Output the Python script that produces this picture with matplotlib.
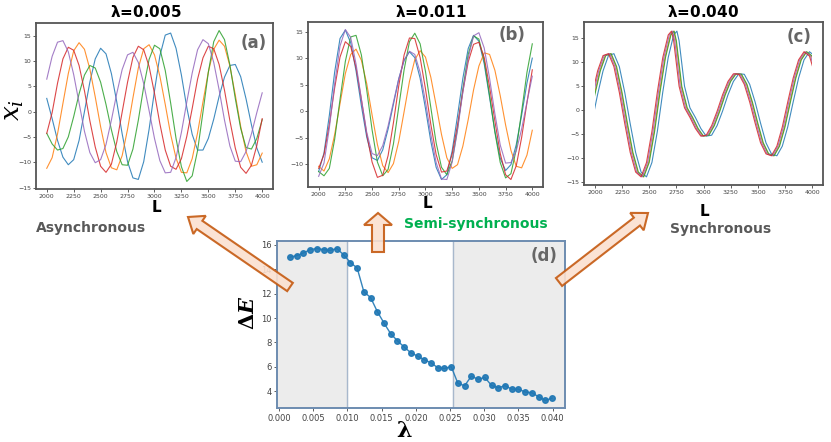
import numpy as np
import matplotlib.pyplot as plt
from matplotlib.patches import FancyArrow, Rectangle

# ---- data ----
L = np.arange(2000, 4001, 50)

# (a) lambda = 0.005
a_blue = [2.6, -1.4, -5.7, -9.0, -10.5, -9.5, -5.7, 0.0, 5.8, 10.4,
          12.5, 11.4, 7.5, 1.9, -4.4, -9.9, -13.1, -13.4, -9.9, -3.5,
          4.1, 11.0, 15.1, 15.5, 12.5, 7.2, 0.8, -4.5, -7.6, -7.6,
          -5.3, -1.5, 3.0, 6.8, 9.1, 9.3, 6.9, 2.5, -2.6, -7.2, -10.0]
a_orange = [-11.2, -9.1, -4.4, 1.6, 7.5, 12.0, 13.6, 12.3, 8.4, 2.9,
            -3.0, -8.1, -11.1, -11.5, -8.7, -3.5, 2.7, 8.6, 12.4, 13.2,
            11.2, 7.0, 1.4, -4.5, -9.2, -12.0, -12.1, -9.3, -4.2, 1.9,
            7.8, 12.3, 14.1, 12.9, 9.0, 3.3, -2.9, -7.9, -10.8, -10.5, -8.2]
a_green = [-4.3, -6.4, -7.6, -7.3, -5.0, -1.0, 3.5, 7.2, 9.1, 8.6,
           5.8, 1.4, -3.6, -7.9, -10.5, -10.6, -7.4, -1.7, 4.9, 10.3,
           13.1, 12.4, 8.1, 1.7, -5.3, -10.9, -13.8, -12.7, -7.7, -0.1,
           7.8, 13.8, 16.0, 14.2, 9.2, 2.6, -3.3, -7.1, -7.4, -5.3, -1.6]
a_red = [-4.3, -0.2, 5.6, 10.4, 12.7, 12.1, 9.1, 4.1, -1.8, -7.0,
         -10.8, -12.0, -10.4, -6.0, -0.1, 5.8, 10.7, 12.9, 12.2, 8.9,
         3.6, -2.4, -7.6, -10.8, -11.4, -9.3, -4.9, 0.6, 6.4, 10.6,
         12.9, 12.4, 9.3, 4.2, -1.8, -7.2, -11.0, -12.2, -10.6, -6.7, -1.4]
a_purple = [6.4, 10.9, 13.7, 14.0, 11.8, 7.3, 1.7, -3.9, -8.1, -10.1,
            -9.5, -6.5, -1.7, 3.6, 8.3, 11.2, 11.7, 9.7, 5.5, 0.2,
            -5.3, -9.7, -12.1, -12.0, -9.1, -4.1, 1.9, 7.6, 12.2, 14.2,
            13.4, 9.7, 4.3, -1.7, -6.8, -9.8, -9.9, -7.9, -4.4, -0.2, 3.7]

# (b) lambda = 0.011
b_blue = [-11.4, -7.9, -0.8, 7.4, 13.7, 15.3, 12.9, 7.6, 1.0, -4.9,
          -8.8, -9.3, -7.3, -3.4, 1.3, 6.1, 9.6, 11.2, 10.1, 6.2,
          0.5, -5.7, -10.6, -12.9, -12.0, -7.5, -0.9, 6.2, 11.8, 14.3,
          13.2, 8.9, 2.6, -3.8, -8.9, -11.2, -10.1, -6.3, -0.8, 5.3, 10.0]
b_orange = [-10.4, -11.3, -9.0, -4.4, 1.4, 7.1, 10.7, 11.7, 9.6, 5.2,
            -0.7, -6.3, -10.3, -11.6, -9.9, -5.7, -0.1, 5.6, 9.7, 11.4,
            10.2, 6.4, 1.1, -4.4, -8.8, -10.8, -10.1, -6.6, -1.6, 4.0,
            8.5, 11.0, 10.7, 7.7, 2.9, -2.6, -7.4, -10.4, -10.7, -8.3, -3.6]
b_green = [-11.4, -12.2, -10.8, -5.3, 2.2, 9.4, 14.0, 14.3, 10.6, 4.0,
           -3.5, -9.6, -12.2, -11.0, -6.2, 0.8, 7.8, 13.1, 14.7, 12.7,
           7.5, 0.7, -6.0, -10.6, -12.0, -9.4, -3.3, 4.2, 10.7, 14.2,
           13.6, 9.5, 3.0, -4.0, -9.7, -12.6, -11.8, -7.2, -0.1, 7.3, 12.7]
b_red = [-10.8, -8.2, -2.5, 4.4, 10.2, 13.1, 12.2, 8.2, 2.2, -4.3,
         -9.6, -12.5, -12.1, -8.4, -2.2, 4.8, 10.6, 13.8, 13.7, 10.1,
         4.2, -2.5, -8.2, -11.5, -11.3, -8.1, -2.6, 3.7, 9.3, 12.6,
         13.0, 10.1, 4.6, -1.9, -8.0, -12.0, -12.9, -10.3, -5.0, 1.6, 7.8]
b_purple = [-12.3, -9.8, -3.2, 5.2, 12.3, 15.4, 13.9, 8.9, 2.3, -4.0,
            -8.0, -8.4, -6.5, -2.8, 1.7, 6.1, 9.6, 11.3, 10.7, 7.3,
            1.8, -4.4, -9.7, -12.8, -12.9, -9.6, -3.6, 3.6, 10.0, 14.2,
            14.8, 11.9, 6.2, -0.5, -6.4, -9.8, -9.7, -7.5, -3.4, 1.7, 6.6]

# (c) lambda = 0.040: common shape, each unit lagging a little
c_L = list(range(1950, 2701, 50)) + [2730] + list(range(2750, 4051, 50))
c_x = [-2.2, 3.3, 8.2, 11.4, 11.8, 9.1, 3.7, -2.8, -8.8, -12.9,
       -13.9, -10.9, -4.4, 3.8, 11.0, 15.7, 16.5,
       14.5, 5.0, 0.5, -1.5, -3.8, -5.4, -5.2, -3.2, -0.2, 3.2,
       6.0, 7.6, 7.5, 5.4, 1.7, -2.7, -6.8, -9.1, -9.5, -7.5,
       -3.5, 1.7, 6.7, 10.5, 12.2, 11.3, 7.5]
c_lag = {'blue': 25, 'orange': -5, 'green': 0, 'purple': -15, 'red': -25}

# (d) energy gap vs coupling
lam = np.linspace(0.0016, 0.0399, 40)
dE = [15.0, 15.12, 15.34, 15.62, 15.70, 15.62, 15.56, 15.70, 15.18, 14.55,
      14.11, 12.15, 11.68, 10.53, 9.58, 8.70, 8.13, 7.61, 7.14, 6.87,
      6.57, 6.32, 5.91, 5.86, 6.0, 4.63, 4.44, 5.23, 4.96, 5.12,
      4.46, 4.27, 4.44, 4.16, 4.16, 3.92, 3.86, 3.53, 3.23, 3.42]
lam_lo, lam_hi = 0.010, 0.0255

col = {'blue': '#1f77b4', 'orange': '#ff7f0e', 'green': '#2ca02c',
       'red': '#d62728', 'purple': '#9467bd'}

fig = plt.figure(figsize=(8.31, 4.42), dpi=100)

def style_series(ax, yt):
    ax.set_xlim(1900, 4100)
    ax.set_xticks(range(2000, 4001, 250))
    ax.set_yticks(yt)
    ax.tick_params(labelsize=4.5, length=2, width=0.6, pad=1.5,
                   colors='#444444')
    for s in ax.spines.values():
        s.set_color('#555555')
        s.set_linewidth(1.3)

ax_a = fig.add_axes([0.0433, 0.5724, 0.2852, 0.3756])
for name, y in zip(['blue', 'orange', 'green', 'red', 'purple'],
                   [a_blue, a_orange, a_green, a_red, a_purple]):
    ax_a.plot(L, y, color=col[name], lw=0.8, alpha=0.85)
style_series(ax_a, range(-15, 16, 5))

ax_b = fig.add_axes([0.3706, 0.5769, 0.2828, 0.3733])
for name, y in zip(['blue', 'orange', 'green', 'red', 'purple'],
                   [b_blue, b_orange, b_green, b_red, b_purple]):
    ax_b.plot(L, y, color=col[name], lw=0.8, alpha=0.85)
style_series(ax_b, range(-10, 16, 5))

ax_c = fig.add_axes([0.7028, 0.5814, 0.2876, 0.3688])
for name in ['blue', 'orange', 'green', 'purple', 'red']:
    ln, = ax_c.plot(np.array(c_L) + c_lag[name], c_x, color=col[name],
                    lw=0.8, alpha=0.85)
    ln.set_clip_path(Rectangle((2000, -100), 2000, 200,
                               transform=ax_c.transData))
ax_c.set_ylim(-15.6, 18.4)
style_series(ax_c, range(-15, 16, 5))

ax_d = fig.add_axes([0.3333, 0.0769, 0.3466, 0.3778])
ax_d.set_xlim(-0.0003, 0.0418)
ax_d.axvspan(-0.001, lam_lo, color='#ececec', zorder=0)
ax_d.axvspan(lam_hi, 0.05, color='#ececec', zorder=0)
ax_d.axvline(lam_lo, color='#a8b8cc', lw=1)
ax_d.axvline(lam_hi, color='#a8b8cc', lw=1)
ax_d.plot(lam, dE, '-o', color='#1f77b4', lw=1, ms=4, alpha=0.9)
ax_d.set_xticks(np.arange(0, 0.0401, 0.005))
ax_d.set_xticklabels(['%.3f' % v for v in np.arange(0, 0.0401, 0.005)])
ax_d.set_yticks(range(4, 17, 2))
ax_d.tick_params(labelsize=6, length=2.5, width=0.6, pad=1.5,
                 colors='#444444')
for s in ax_d.spines.values():
    s.set_color('#6d8cb0')
    s.set_linewidth(1.4)

# ---- overlay in pixel coordinates for labels and block arrows ----
ov = fig.add_axes([0, 0, 1, 1], zorder=10)
ov.set_xlim(0, 831)
ov.set_ylim(442, 0)
ov.axis('off')
ov.patch.set_alpha(0)

for x, t in [(146, '0.005'), (431, '0.011'), (703, '0.040')]:
    ov.text(x, 12, r'$\boldsymbol{\lambda}$=' + t, ha='center', va='center',
            fontsize=11, fontweight='bold')
for x, y, t in [(267, 43, '(a)'), (525, 35, '(b)'), (811, 37, '(c)'),
                (558, 256, '(d)')]:
    ov.text(x, y, t, ha='right', va='center', fontsize=12,
            fontweight='bold', color='#666666')
for x, y in [(156, 207), (427, 204), (704, 211)]:
    ov.text(x, y, 'L', ha='center', va='center', fontsize=11,
            fontweight='bold')

ov.text(13, 110, r'$\boldsymbol{x_i}$', ha='center', va='center',
        fontsize=19, rotation=90, math_fontfamily='dejavuserif')
ov.text(248, 313, r'$\boldsymbol{\Delta E}$', ha='center', va='center',
        fontsize=15, rotation=90, math_fontfamily='dejavuserif')
ov.text(404, 431, r'$\boldsymbol{\lambda}$', ha='center', va='center',
        fontsize=16, math_fontfamily='dejavuserif')

ov.text(91, 228, 'Asynchronous', ha='center', va='center', fontsize=10,
        fontweight='bold', color='#595959')
ov.text(476, 224, 'Semi-synchronous', ha='center', va='center',
        fontsize=10, fontweight='bold', color='#00b050')
ov.text(721, 229, 'Synchronous', ha='center', va='center', fontsize=10,
        fontweight='bold', color='#595959')

arrow_kw = dict(length_includes_head=True, facecolor='#fbe0d0',
                edgecolor='#c55a11', linewidth=1.5, alpha=0.9)
for (x0, y0), (x1, y1), w, hw, hl in [((290, 287), (188, 217), 10, 22, 14),
                                      ((378, 252), (378, 213), 12, 28, 12),
                                      ((559, 282), (648, 213), 10, 22, 14)]:
    ov.add_patch(FancyArrow(x0, y0, x1 - x0, y1 - y0, width=w,
                            head_width=hw, head_length=hl, **arrow_kw))

fig.savefig('out.png', dpi=100)
